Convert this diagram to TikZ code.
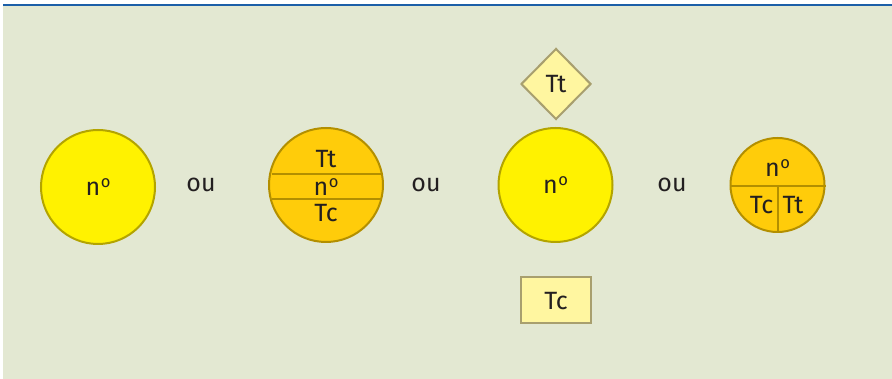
\documentclass[tikz,border=0pt]{standalone}
\usepackage{fontspec}
\setmainfont{Fira Sans}
\usetikzlibrary{shapes.geometric}
\definecolor{bgpanel}{HTML}{E3E8D2}
\definecolor{topline}{HTML}{1C5FA8}
\definecolor{yelfill}{HTML}{FFF200}
\definecolor{yeldraw}{HTML}{B3A400}
\definecolor{orfill}{HTML}{FFCC0A}
\definecolor{ordraw}{HTML}{B38F00}
\definecolor{palefill}{HTML}{FFF6A0}
\definecolor{paledraw}{HTML}{A89F6E}
\definecolor{txt}{HTML}{231F20}
\newcommand{\numo}{n\kern0.5pt\raisebox{8pt}{\fontsize{16.5}{16}\selectfont o}}
\tikzset{
  lbl/.style={font=\fontsize{25}{28}\selectfont, text=txt, inner sep=0pt, anchor=base},
  yelcirc/.style={circle, fill=yelfill, draw=yeldraw, line width=2pt, minimum size=#1, inner sep=0pt},
  orcirc/.style={circle, fill=orfill, draw=ordraw, line width=2pt, minimum size=#1, inner sep=0pt},
  palebox/.style={fill=palefill, draw=paledraw, line width=2pt},
}
\begin{document}
\begin{tikzpicture}[x=1pt,y=-1pt]
\useasboundingbox (0,0) rectangle (892,379);
\fill[white] (0,0) rectangle (892,379);
\fill[bgpanel] (3,6) rectangle (892,379);
\fill[topline] (3,4) rectangle (892,6.5);
% circle 1
\node[yelcirc=114pt] (c1) at (98,187) {};
\node[lbl] (c1t) at (98,196) {\numo};
\node[lbl] (ou1) at (201,192) {ou};
% circle 2
\node[orcirc=114pt] (c2) at (326,185) {};
\draw[ordraw, line width=2pt] (326-54.5,174) coordinate (c2a) -- (326+54.5,174) coordinate (c2b);
\draw[ordraw, line width=2pt] (326-54.5,199) coordinate (c2c) -- (326+54.5,199) coordinate (c2d);
\node[lbl] (c2tt) at (326,167.5) {Tt};
\node[lbl] (c2n) at (326,195.5) {\numo};
\node[lbl] (c2tc) at (326,221.5) {Tc};
\node[lbl] (ou2) at (426,192) {ou};
% circle 3 with diamond and box
\node[yelcirc=114pt] (c3) at (555.5,185) {};
\node[lbl] (c3t) at (555.5,194) {\numo};
\node[diamond, palebox, minimum width=70pt, minimum height=71pt, inner sep=0pt] (dm) at (556,84) {};
\node[lbl] (dmt) at (556,92.5) {Tt};
\node[rectangle, palebox, minimum width=70pt, minimum height=46pt, inner sep=0pt] (bx) at (556,300.5) {};
\node[lbl] (bxt) at (556,309.5) {Tc};
\node[lbl] (ou3) at (672,192) {ou};
% circle 4
\node[orcirc=94pt] (c4) at (777.5,185) {};
\draw[ordraw, line width=2pt] (c4.west |- 0,186) -- (c4.east |- 0,186);
\draw[ordraw, line width=2pt] (777.5,186) -- (c4.south);
\node[lbl] (c4n) at (777.5,177) {\numo};
\node[lbl] (c4tc) at (761.5,213.5) {Tc};
\node[lbl] (c4tt) at (793,213.5) {Tt};
\end{tikzpicture}
\end{document}
